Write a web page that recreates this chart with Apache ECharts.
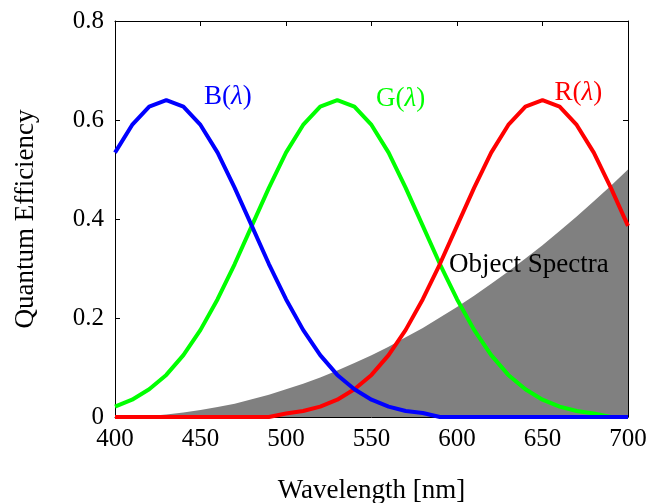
<!DOCTYPE html>
<html>
<head>
<meta charset="utf-8">
<title>Quantum Efficiency</title>
<script src="https://cdn.jsdelivr.net/npm/echarts@6/dist/echarts.min.js"></script>
<style>
  html, body { margin: 0; padding: 0; background: #ffffff; }
  #chart { width: 649px; height: 503px; }
</style>
</head>
<body>
<div id="chart"></div>
<script>
// Sampling grid (nm)
const wavelength = [400, 410, 420, 430, 440, 450, 460, 470, 480, 490, 500,
  510, 520, 530, 540, 550, 560, 570, 580, 590, 600,
  610, 620, 630, 640, 650, 660, 670, 680, 690, 700];

// Sensor channel quantum efficiencies
const blueQE = [0.534, 0.590, 0.627, 0.640, 0.627, 0.590, 0.534, 0.463, 0.386, 0.309, 0.238,
  0.176, 0.125, 0.085, 0.056, 0.035, 0.021, 0.012, 0.008, 0, 0,
  0, 0, 0, 0, 0, 0, 0, 0, 0, 0];
const greenQE = [0.021, 0.035, 0.056, 0.085, 0.125, 0.176, 0.238, 0.309, 0.386, 0.463, 0.534,
  0.590, 0.627, 0.640, 0.627, 0.590, 0.534, 0.463, 0.386, 0.309, 0.238,
  0.176, 0.125, 0.085, 0.056, 0.035, 0.021, 0.012, 0.007, 0, 0];
const redQE = [0, 0, 0, 0, 0, 0, 0, 0, 0, 0, 0.007,
  0.012, 0.021, 0.035, 0.056, 0.085, 0.125, 0.176, 0.238, 0.309, 0.386,
  0.463, 0.534, 0.590, 0.627, 0.640, 0.627, 0.590, 0.534, 0.463, 0.386];

// Spectrum of the imaged object
const objectSpectra = [0, 0.001, 0.002, 0.005, 0.009, 0.014, 0.020, 0.027, 0.036, 0.045, 0.056,
  0.067, 0.080, 0.094, 0.109, 0.125, 0.142, 0.161, 0.180, 0.201, 0.222,
  0.245, 0.269, 0.294, 0.320, 0.347, 0.376, 0.405, 0.436, 0.467, 0.500];

// Axis ticks
const xTicks = [400, 450, 500, 550, 600, 650, 700];
const yTicks = [0, 0.2, 0.4, 0.6, 0.8];

const pairs = (ys) => wavelength.map((x, i) => [x, ys[i]]);

const FONT = 'Liberation Serif';
const black = '#000000';

const xRange = { min: xTicks[0], max: xTicks[xTicks.length - 1], interval: xTicks[1] - xTicks[0] };
const yRange = { min: yTicks[0], max: yTicks[yTicks.length - 1], interval: yTicks[1] - yTicks[0] };

function frameAxis(base, pos, showLabel, margin) {
  return Object.assign({
    type: 'value',
    position: pos,
    axisLine: { show: true, onZero: false, lineStyle: { color: black, width: 1 } },
    axisTick: { show: true, inside: true, length: 5, lineStyle: { color: black, width: 1 } },
    splitLine: { show: false },
    axisLabel: { show: showLabel, margin: margin, color: black, fontFamily: FONT, fontSize: 25 }
  }, base);
}

function curveLabel(text, color, coord) {
  return {
    symbol: 'circle',
    symbolSize: 1,
    itemStyle: { color: 'rgba(0,0,0,0)' },
    silent: true,
    data: [{
      coord: coord,
      label: {
        show: true,
        position: 'inside',
        formatter: text,
        rich: {
          r: { fontFamily: FONT, fontSize: 27, color: color },
          i: { fontFamily: FONT, fontSize: 27, fontStyle: 'italic', color: color }
        }
      }
    }]
  };
}

const chart = echarts.init(document.getElementById('chart'), null, { renderer: 'canvas' });

chart.setOption({
  animation: false,
  backgroundColor: '#ffffff',
  textStyle: { fontFamily: FONT },
  grid: { left: 115, right: 21, top: 21, bottom: 86, show: false, containLabel: false, outerBoundsMode: 'none' },
  xAxis: [
    frameAxis(Object.assign({
      name: 'Wavelength [nm]',
      nameLocation: 'middle',
      nameGap: 60,
      nameTextStyle: { color: black, fontFamily: FONT, fontSize: 27 }
    }, xRange), 'bottom', true, 10),
    frameAxis(Object.assign({}, xRange), 'top', false, 8)
  ],
  yAxis: [
    frameAxis(Object.assign({
      name: 'Quantum Efficiency',
      nameLocation: 'middle',
      nameGap: 76,
      nameTextStyle: { color: black, fontFamily: FONT, fontSize: 27 }
    }, yRange), 'left', true, 11),
    frameAxis(Object.assign({}, yRange), 'right', false, 8)
  ],
  series: [
    {
      name: 'Object Spectra',
      type: 'line',
      data: pairs(objectSpectra),
      symbol: 'none',
      lineStyle: { width: 0 },
      areaStyle: { color: '#808080', opacity: 1 },
      z: 1,
      markPoint: {
        symbol: 'circle',
        symbolSize: 1,
        itemStyle: { color: 'rgba(0,0,0,0)' },
        silent: true,
        data: [{
          coord: [595, 0.307],
          label: {
            show: true,
            position: 'right',
            distance: 0,
            formatter: 'Object Spectra',
            color: black,
            fontFamily: FONT,
            fontSize: 27
          }
        }]
      }
    },
    {
      name: 'G',
      type: 'line',
      data: pairs(greenQE),
      symbol: 'none',
      clip: false,
      lineStyle: { color: '#00ff00', width: 4 },
      z: 2,
      markPoint: curveLabel('{r|G(}{i|λ}{r|)}', '#00ff00', [567, 0.642])
    },
    {
      name: 'R',
      type: 'line',
      data: pairs(redQE),
      symbol: 'none',
      clip: false,
      lineStyle: { color: '#ff0000', width: 4 },
      z: 3,
      markPoint: curveLabel('{r|R(}{i|λ}{r|)}', '#ff0000', [671, 0.655])
    },
    {
      name: 'B',
      type: 'line',
      data: pairs(blueQE),
      symbol: 'none',
      clip: false,
      lineStyle: { color: '#0000ff', width: 4 },
      z: 4,
      markPoint: curveLabel('{r|B(}{i|λ}{r|)}', '#0000ff', [466, 0.646])
    }
  ]
});
</script>
</body>
</html>
